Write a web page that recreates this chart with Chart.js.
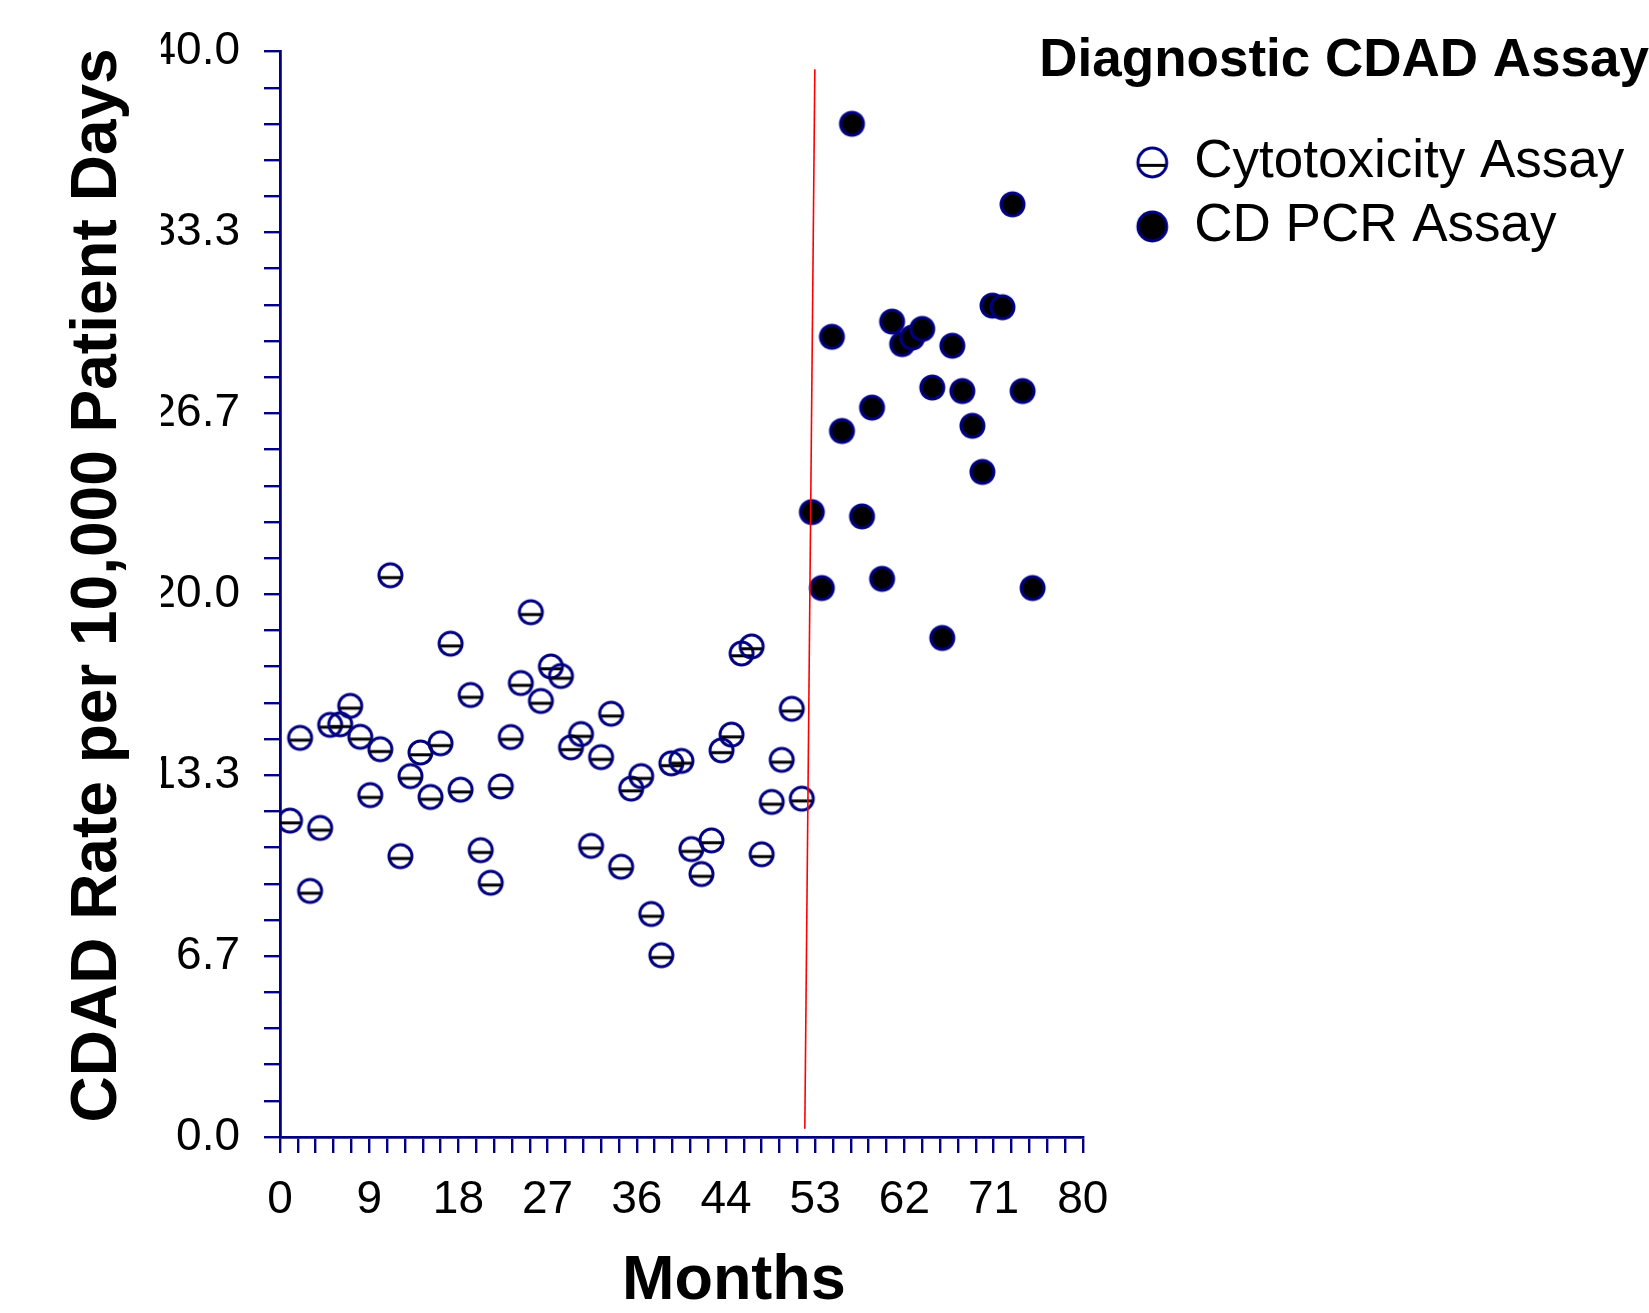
<!DOCTYPE html>
<html>
<head>
<meta charset="utf-8">
<title>CDAD Rate</title>
<script src="https://cdn.jsdelivr.net/npm/chart.js@4.4.1/dist/chart.umd.min.js"></script>
<style>
  html, body { margin: 0; padding: 0; background: #fff; overflow: hidden; }
  #wrap { width: 1649px; height: 1313px; position: relative; }
</style>
</head>
<body>
<div id="wrap"><canvas id="chart"></canvas></div>
<script>
// Data
const seriesNames = ['Cytotoxicity Assay', 'CD PCR Assay'];
const legendTitle = 'Diagnostic CDAD Assay';

const cytoMonths = [1, 2, 3, 4, 5, 6, 7, 8, 9, 10, 11, 12, 13, 14, 15, 16, 17, 18, 19, 20, 21, 22, 23, 24, 25, 26,
  27, 28, 29, 30, 31, 32, 33, 34, 35, 36, 37, 38, 39, 40, 41, 42, 43, 44, 45, 46, 47, 48, 49, 50, 51, 52];
const cytoRates = [11.66, 14.71, 9.07, 11.39, 15.19, 15.21, 15.89, 14.75, 12.60, 14.29, 20.70, 10.35, 13.30,
  14.17, 12.53, 14.51, 18.18, 12.80, 16.29, 10.57, 9.37, 12.92, 14.74, 16.73, 19.34, 16.07,
  17.34, 16.99, 14.36, 14.85, 10.73, 14.00, 15.60, 9.96, 12.84, 13.30, 8.22, 6.70, 13.77,
  13.86, 10.61, 9.69, 10.93, 14.25, 14.83, 17.82, 18.08, 10.42, 12.35, 13.90, 15.78, 12.47];

const pcrMonths = [53, 54, 55, 56, 57, 58, 59, 60, 61, 62, 63, 64, 65, 66, 67, 68, 69, 70, 71, 72, 73, 74, 75];
const pcrRates = [23.03, 20.23, 29.49, 26.02, 37.34, 22.87, 26.88, 20.57, 30.05, 29.22, 29.46, 29.78,
  27.62, 18.39, 29.16, 27.49, 26.21, 24.51, 30.64, 30.58, 34.37, 27.49, 20.23];

// red line marking the switch of assay (end points)
const switchLineX = [52.3, 53.3];
const switchLineY = [0.3, 39.35];

const xTickLabels = ['0', '9', '18', '27', '36', '44', '53', '62', '71', '80'];
const yTickLabels = ['0.0', '6.7', '13.3', '20.0', '26.7', '33.3', '40.0'];
const xMax = 80;
const yMax = 40;
const minorPerMajor = 5;

const NAVY = '#000080';
const TEXT_FONT = "'Liberation Sans', Arial, sans-serif";

// open circle with a bar, or filled circle
function makeMarker(r, filled) {
  const size = Math.ceil(2 * r + 8);
  const c = document.createElement('canvas');
  c.width = size;
  c.height = size;
  const g = c.getContext('2d');
  const m = size / 2;
  g.beginPath();
  g.arc(m, m, r, 0, Math.PI * 2);
  if (filled) {
    g.fillStyle = '#000';
    g.fill();
  }
  g.lineWidth = 3;
  g.strokeStyle = NAVY;
  g.stroke();
  if (!filled) {
    const dy = r * 0.2;
    const half = Math.sqrt(r * r - dy * dy) - 1;
    g.beginPath();
    g.moveTo(m - half, m + dy);
    g.lineTo(m + half, m + dy);
    g.lineWidth = 3;
    g.strokeStyle = '#000';
    g.stroke();
  }
  return c;
}

const openMarker = makeMarker(11.5, false);
const fullMarker = makeMarker(11.5, true);
const openLegend = makeMarker(14.4, false);
const fullLegend = makeMarker(14.4, true);

function tickValues(max, nLabels) {
  const step = max / ((nLabels - 1) * minorPerMajor);
  const out = [];
  for (let i = 0; i <= (nLabels - 1) * minorPerMajor; i++) out.push({ value: i * step });
  return out;
}

// the reference cuts the y labels off at the left
const clipYLabels = {
  id: 'clipYLabels',
  afterDraw(chart) {
    const ctx = chart.ctx;
    ctx.save();
    ctx.fillStyle = '#fff';
    ctx.fillRect(135, 0, 26, 1170);
    ctx.restore();
  }
};

document.addEventListener('DOMContentLoaded', () => {
  const ctx = document.getElementById('chart').getContext('2d');

  new Chart(ctx, {
    type: 'scatter',
    data: {
      datasets: [
        {
          label: 'switch',
          data: switchLineX.map((x, i) => ({ x: x, y: switchLineY[i] })),
          showLine: true,
          borderColor: '#ff0000',
          borderWidth: 1.6,
          pointRadius: 0,
          order: 0
        },
        {
          label: seriesNames[0],
          data: cytoMonths.map((m, i) => ({ x: m, y: cytoRates[i] })),
          pointStyle: openMarker,
          pointRadius: 12,
          order: 1
        },
        {
          label: seriesNames[1],
          data: pcrMonths.map((m, i) => ({ x: m, y: pcrRates[i] })),
          pointStyle: fullMarker,
          pointRadius: 12,
          order: 1
        }
      ]
    },
    options: {
      responsive: true,
      maintainAspectRatio: false,
      animation: false,
      events: [],
      layout: { padding: { top: 47, right: 0, bottom: 0, left: 0 } },
      plugins: {
        tooltip: { enabled: false },
        // heading of the legend; drawn as chart title so it is not clipped to the legend box
        title: {
          display: true,
          text: legendTitle,
          position: 'top',
          align: 'end',
          color: '#000',
          font: { family: TEXT_FONT, size: 53, weight: 'bold', lineHeight: 1 },
          padding: { top: -16.5, bottom: -36.5 }
        },
        legend: {
          display: true,
          position: 'right',
          align: 'start',
          maxWidth: 600,
          // empty title only keeps room above the items for the heading
          title: {
            display: true,
            text: '',
            font: { family: TEXT_FONT, size: 53, lineHeight: 1 },
            padding: { top: 0, bottom: 25 }
          },
          labels: {
            usePointStyle: true,
            boxWidth: 31,
            boxHeight: 31,
            padding: 11,
            color: '#000',
            font: { family: TEXT_FONT, size: 53 },
            generateLabels(chart) {
              const items = Chart.defaults.plugins.legend.labels.generateLabels(chart);
              return items
                .filter(it => it.datasetIndex > 0)
                .map(it => Object.assign(it, {
                  text: it.text + '\u00a0',
                  pointStyle: it.datasetIndex === 1 ? openLegend : fullLegend
                }));
            }
          }
        }
      },
      scales: {
        x: {
          type: 'linear',
          position: 'bottom',
          min: 0,
          max: xMax,
          afterBuildTicks(axis) { axis.ticks = tickValues(xMax, xTickLabels.length); },
          afterFit(axis) { axis.height = 176; },
          ticks: {
            autoSkip: false,
            maxRotation: 0,
            minRotation: 0,
            padding: 20,
            color: '#000',
            font: { family: TEXT_FONT, size: 46 },
            callback: (v, i) => (i % minorPerMajor === 0 ? xTickLabels[i / minorPerMajor] : '')
          },
          grid: { drawOnChartArea: false, drawTicks: true, tickLength: 16, color: NAVY, lineWidth: 2.4 },
          border: { display: true, color: NAVY, width: 2.8 },
          title: {
            display: true,
            text: '\u00a0\u00a0\u00a0\u00a0\u00a0\u00a0Months',
            color: '#000',
            font: { family: TEXT_FONT, size: 63, weight: 'bold', lineHeight: 1 },
            padding: { top: 0, bottom: 0 }
          }
        },
        y: {
          type: 'linear',
          position: 'left',
          min: 0,
          max: yMax,
          afterBuildTicks(axis) { axis.ticks = tickValues(yMax, yTickLabels.length); },
          afterFit(axis) { axis.width = 280; },
          ticks: {
            autoSkip: false,
            padding: 24,
            color: '#000',
            font: { family: TEXT_FONT, size: 46 },
            callback: (v, i) => (i % minorPerMajor === 0 ? yTickLabels[i / minorPerMajor] : '')
          },
          grid: { drawOnChartArea: false, drawTicks: true, tickLength: 16, color: NAVY, lineWidth: 2.4 },
          border: { display: true, color: NAVY, width: 2.8 },
          title: {
            display: true,
            text: '\u00a0CDAD Rate per 10,000 Patient Days',
            color: '#000',
            font: { family: TEXT_FONT, size: 64, weight: 'bold', lineHeight: 1 },
            padding: { top: 66, bottom: 0 }
          }
        },
        // empty axis only used to keep the plot clear of the legend
        spacer: {
          type: 'linear',
          position: 'right',
          display: true,
          grid: { display: false },
          border: { display: false },
          ticks: { display: false },
          afterFit(axis) { axis.width = 43; }
        }
      }
    },
    plugins: [clipYLabels]
  });
});
</script>
</body>
</html>
